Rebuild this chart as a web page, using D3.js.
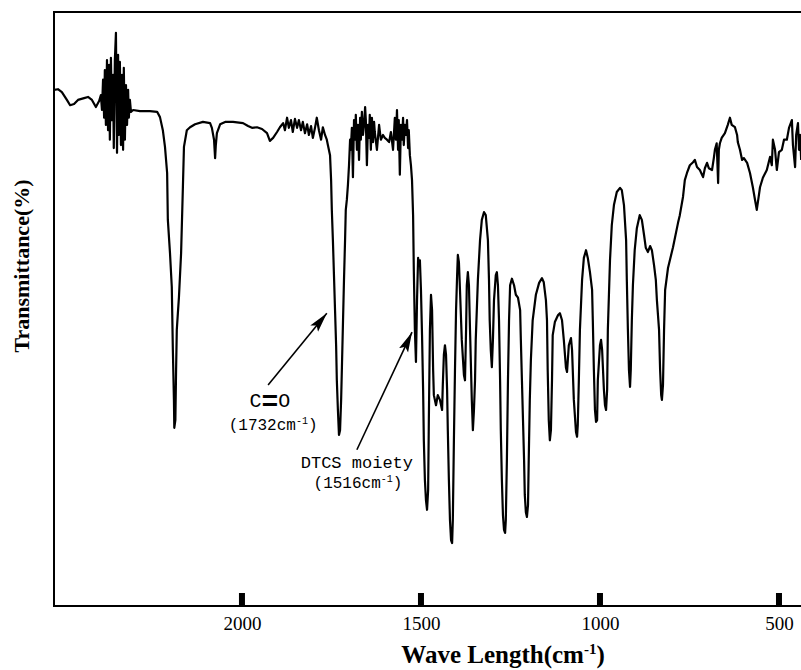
<!DOCTYPE html>
<html>
<head>
<meta charset="utf-8">
<script src="https://cdn.jsdelivr.net/npm/d3@7"></script>
<style>
    body { margin: 0; background: #fff; }
    svg { display: block; }
</style>
</head>
<body>
<div id="chart-area"></div>
<script>
// IR spectrum: wavenumber (cm-1) and transmittance (% of plot height)
const wavenumbers = [
    2525, 2514, 2503, 2489, 2480, 2469, 2458, 2441, 2430, 2419, 2408, 2399,
    2394, 2391, 2388, 2385, 2383, 2380, 2377, 2374, 2371, 2369, 2366, 2363, 2360, 2358, 2355, 2352,
    2349, 2346, 2344, 2341, 2338, 2335, 2332, 2330, 2327, 2324, 2321, 2318, 2316, 2313, 2310,
    2304, 2285, 2257, 2237, 2229, 2221, 2215, 2209, 2207, 2201, 2196, 2193, 2190, 2189, 2186,
    2184, 2182, 2179, 2176, 2170, 2165, 2162, 2154, 2145, 2131, 2109, 2089, 2084, 2078, 2075,
    2073, 2070, 2061, 2047, 2025, 1997, 1983, 1972, 1958, 1944, 1930, 1922, 1913, 1902, 1894,
    1885, 1880, 1874, 1869, 1863, 1858, 1852, 1846, 1841, 1835, 1830, 1824, 1818, 1813, 1807,
    1802, 1796, 1791, 1785, 1779, 1774, 1768, 1763, 1760, 1754, 1751, 1749, 1746, 1743, 1740,
    1737, 1735, 1732, 1729, 1726, 1723, 1721, 1718, 1715, 1712, 1710, 1707, 1704, 1701, 1698,
    1696, 1693, 1690, 1687, 1684, 1682, 1679, 1676, 1673, 1670, 1668, 1665, 1662, 1659, 1656,
    1654, 1651, 1648, 1645, 1643, 1640, 1637, 1634, 1631, 1629, 1623, 1617, 1612, 1606, 1601,
    1595, 1589, 1584, 1578, 1573, 1570, 1567, 1564, 1562, 1559, 1556, 1553, 1550, 1548, 1545,
    1542, 1539, 1536, 1534, 1531, 1528, 1525, 1522, 1520, 1517, 1514, 1511, 1508, 1506, 1503,
    1500, 1497, 1494, 1492, 1489, 1486, 1483, 1480, 1478, 1475, 1472, 1469, 1466, 1464, 1458,
    1453, 1447, 1441, 1439, 1436, 1433, 1430, 1427, 1425, 1422, 1419, 1416, 1413, 1411, 1408,
    1405, 1402, 1399, 1397, 1394, 1391, 1386, 1380, 1377, 1374, 1372, 1369, 1366, 1363, 1358,
    1355, 1352, 1349, 1347, 1341, 1335, 1330, 1324, 1319, 1313, 1310, 1308, 1305, 1302, 1299,
    1296, 1291, 1288, 1285, 1282, 1279, 1277, 1274, 1271, 1268, 1265, 1263, 1260, 1257, 1254,
    1251, 1246, 1240, 1235, 1229, 1223, 1221, 1218, 1215, 1212, 1210, 1207, 1204, 1201, 1199,
    1196, 1193, 1188, 1179, 1170, 1162, 1157, 1151, 1148, 1146, 1143, 1140, 1137, 1134, 1132,
    1126, 1117, 1112, 1106, 1101, 1095, 1092, 1087, 1081, 1078, 1073, 1067, 1064, 1062, 1059,
    1056, 1050, 1045, 1039, 1034, 1028, 1022, 1020, 1017, 1014, 1011, 1008, 1006, 1000, 997,
    994, 989, 986, 983, 980, 978, 972, 967, 961, 953, 944, 939, 933, 927, 925,
    922, 919, 916, 914, 911, 908, 903, 897, 889, 883, 877, 872, 866, 860, 855,
    849, 844, 841, 835, 832, 829, 827, 824, 821, 818, 810, 796, 782, 777, 768,
    763, 757, 749, 740, 735, 729, 721, 712, 707, 701, 696, 687, 682, 679, 674,
    670, 668, 665, 660, 651, 643, 637, 632, 623, 617, 615, 609, 603, 598, 589,
    581, 573, 567, 562, 556, 553, 545, 534, 525, 520, 517, 511, 506, 500, 492,
    486, 478, 472, 464, 461, 455, 452, 447, 444, 441, 438
];
const transmittance = [
    86.9, 87.0, 86.5, 85.2, 84.3, 84.5, 85.2, 85.5, 85.7, 85.2, 84.0, 85.0,
    86.0, 83.5, 88.6, 82.2, 90.2, 81.0, 91.9, 80.1, 91.1, 78.5, 92.3, 81.8, 89.4, 77.1, 91.9, 96.5,
    76.3, 92.8, 79.3, 91.6, 77.6, 89.4, 76.8, 90.6, 78.5, 87.7, 81.0, 86.9, 82.2, 85.2, 83.2,
    83.5, 83.3, 83.3, 83.2, 82.3, 80.1, 77.3, 72.9, 65.0, 59.4, 53.7, 43.1, 34.7, 30.0, 31.3,
    39.7, 46.5, 49.3, 52.0, 59.4, 70.5, 77.3, 80.1, 80.6, 81.1, 81.5, 81.3, 80.5, 78.5, 75.4,
    77.6, 79.6, 81.1, 81.5, 81.5, 81.3, 80.8, 80.5, 80.6, 80.3, 79.6, 78.3, 78.8, 79.8, 80.6,
    81.3, 80.1, 82.2, 80.5, 81.8, 79.8, 82.0, 80.5, 81.8, 80.1, 81.5, 79.6, 81.1, 79.3, 80.8,
    78.8, 80.5, 82.2, 80.1, 78.5, 80.6, 79.3, 78.5, 77.6, 75.9, 71.7, 66.7, 61.6, 55.7, 49.8,
    43.9, 38.0, 33.0, 28.8, 29.6, 34.7, 39.7, 47.3, 54.9, 61.6, 66.7, 68.4, 70.9, 74.2, 78.5,
    76.8, 80.5, 72.2, 81.8, 78.5, 82.7, 76.8, 81.0, 75.1, 82.2, 78.5, 83.2, 79.3, 81.0, 84.0,
    81.8, 74.2, 81.0, 78.8, 82.7, 76.8, 82.2, 78.1, 81.5, 79.8, 76.8, 81.0, 78.5, 79.3, 78.8,
    78.5, 78.1, 79.8, 76.8, 82.2, 78.5, 83.5, 76.8, 81.8, 72.6, 81.0, 78.5, 82.2, 77.6, 81.0,
    79.3, 81.8, 77.1, 80.1, 75.9, 74.2, 71.7, 65.8, 56.6, 46.5, 41.1, 51.5, 58.6, 57.4, 58.2,
    53.2, 45.6, 36.4, 27.9, 21.2, 17.8, 16.2, 19.5, 31.3, 46.5, 52.4, 49.8, 39.7, 35.5, 33.8,
    35.5, 34.7, 33.0, 37.2, 42.3, 43.9, 42.3, 36.4, 29.6, 21.2, 14.5, 11.1, 10.6, 14.5, 27.9,
    39.7, 49.8, 55.7, 59.1, 57.9, 53.2, 44.8, 38.9, 38.0, 46.5, 54.0, 56.2, 54.0, 46.5, 34.7,
    29.6, 33.0, 38.0, 44.8, 54.9, 61.6, 65.0, 66.3, 65.8, 61.6, 54.9, 48.1, 43.1, 40.2, 44.8,
    51.5, 55.7, 56.2, 54.0, 48.1, 38.0, 29.6, 21.2, 15.3, 12.8, 12.3, 14.5, 24.6, 38.0, 48.1,
    54.0, 55.1, 54.0, 52.4, 51.9, 49.8, 44.8, 38.0, 31.3, 24.6, 18.7, 15.8, 15.0, 17.0, 24.6,
    34.7, 41.4, 48.1, 52.4, 54.4, 55.2, 54.5, 51.5, 48.1, 39.7, 31.3, 27.9, 29.6, 38.0, 45.6,
    47.8, 49.0, 49.3, 48.1, 44.8, 40.1, 39.4, 43.9, 45.1, 43.1, 34.7, 29.3, 28.5, 30.5, 38.0,
    46.5, 54.9, 58.6, 59.9, 58.6, 56.2, 53.2, 48.1, 39.7, 33.0, 31.0, 31.3, 38.0, 43.9, 44.8,
    43.1, 36.4, 33.8, 33.0, 36.4, 46.5, 58.2, 64.1, 67.5, 69.7, 70.4, 70.0, 67.5, 61.6, 54.9,
    46.5, 39.7, 36.9, 39.7, 48.1, 54.0, 59.9, 63.6, 65.8, 65.0, 62.5, 60.3, 59.6, 60.6, 59.9,
    57.4, 54.9, 51.5, 46.5, 39.7, 35.5, 34.7, 37.2, 46.5, 53.2, 56.9, 60.4, 64.5, 65.8, 68.9,
    71.7, 72.9, 74.2, 74.7, 75.1, 73.9, 73.4, 72.2, 73.7, 74.6, 73.7, 73.4, 75.4, 76.8, 77.9,
    71.2, 76.8, 77.9, 78.8, 79.6, 81.0, 82.2, 81.0, 80.6, 79.3, 78.1, 76.8, 75.1, 75.4, 74.6,
    72.9, 70.5, 68.4, 66.7, 69.2, 70.5, 72.1, 73.4, 75.6, 74.2, 78.5, 76.8, 73.4, 76.4, 76.8,
    78.5, 78.5, 80.5, 81.8, 77.6, 73.9, 79.3, 81.3, 76.8, 79.3, 75.1
];

const tickValues = [2000, 1500, 1000, 500];
const xDomain = [2525, 438.5];
const yDomain = [0, 100];

// annotated bands: arrow tail / tip and label anchors in data units
const annotationAtoms = [["C", "O"], null];
const annotationNames = ["C=O", "DTCS moiety"];
const annotationBands = ["1732", "1516"];
const arrowTails = [[1927, 37.2], [1679, 26.3]];
const arrowTips = [[1763, 49.3], [1525, 46.1]];
const nameAnchors = [[1922, 33.5], [1679, 23.2]];
const bandAnchors = [[1913, 29.6], [1676, 19.9]];

const spectrum = wavenumbers.map((w, i) => ({ wn: w, t: transmittance[i] }));

const svg_width = 801, svg_height = 670;
const plotLeft = 54, plotRight = 801, plotTop = 12, plotBottom = 606;

let svg = d3.select("#chart-area")
    .append("svg")
    .attr("width", svg_width)
    .attr("height", svg_height);

let xScale = d3.scaleLinear().domain(xDomain).range([plotLeft, plotRight]);
let yScale = d3.scaleLinear().domain(yDomain).range([plotBottom, plotTop]);

let defs = svg.append("defs");
defs.append("clipPath")
    .attr("id", "plot-clip")
    .append("rect")
    .attr("x", plotLeft).attr("y", plotTop)
    .attr("width", plotRight - plotLeft).attr("height", plotBottom - plotTop);

defs.append("marker")
    .attr("id", "arrow")
    .attr("viewBox", "0 -6 20 12")
    .attr("refX", 20).attr("refY", 0)
    .attr("markerUnits", "userSpaceOnUse")
    .attr("markerWidth", 20).attr("markerHeight", 12)
    .attr("orient", "auto")
    .append("path")
    .attr("d", "M0,-5L20,0L0,5L4,0Z")
    .attr("fill", "#000");

// frame: left, top and bottom lines (no right border)
svg.append("path")
    .attr("d", `M${plotRight + 5},${plotTop}H${plotLeft}V${plotBottom}H${plotRight + 5}`)
    .attr("fill", "none")
    .attr("stroke", "#000")
    .attr("stroke-width", 2);

// thick inward ticks
svg.append("g")
    .selectAll("rect")
    .data(tickValues)
    .enter()
    .append("rect")
    .attr("x", d => xScale(d) - 3)
    .attr("y", plotBottom - 13)
    .attr("width", 6)
    .attr("height", 13)
    .attr("fill", "#000");

// tick labels
let xAxis = svg.append("g")
    .attr("transform", "translate(0," + plotBottom + ")")
    .call(d3.axisBottom(xScale).tickValues(tickValues).tickSize(0).tickPadding(11).tickFormat(d3.format("d")));
xAxis.select(".domain").remove();
xAxis.selectAll("text")
    .attr("font-family", "Liberation Serif, Times New Roman, serif")
    .attr("font-size", 19)
    .attr("fill", "#000");

// spectrum line
let line = d3.line()
    .x(d => xScale(d.wn))
    .y(d => yScale(d.t));

svg.append("path")
    .datum(spectrum)
    .attr("clip-path", "url(#plot-clip)")
    .attr("d", line)
    .attr("fill", "none")
    .attr("stroke", "#000")
    .attr("stroke-width", 2.2)
    .attr("stroke-linejoin", "round");

// annotation arrows
svg.append("g")
    .selectAll("line")
    .data(arrowTails)
    .enter()
    .append("line")
    .attr("x1", d => xScale(d[0]))
    .attr("y1", d => yScale(d[1]))
    .attr("x2", (d, i) => xScale(arrowTips[i][0]))
    .attr("y2", (d, i) => yScale(arrowTips[i][1]))
    .attr("stroke", "#000")
    .attr("stroke-width", 1.6)
    .attr("marker-end", "url(#arrow)");

// annotation texts
const monoFont = "Liberation Mono, Courier New, monospace";
annotationNames.forEach((name, i) => {
    let label = svg.append("text")
        .attr("x", xScale(nameAnchors[i][0]))
        .attr("y", yScale(nameAnchors[i][1]))
        .attr("text-anchor", "middle")
        .attr("font-family", monoFont)
        .attr("font-size", i === 0 ? 20 : 17);
    if (annotationAtoms[i]) {
        // wide, heavy double bond like the original figure
        label.append("tspan").text(annotationAtoms[i][0]);
        label.append("tspan").attr("font-size", 28).attr("font-weight", "bold").attr("dy", 2.5).text("=");
        label.append("tspan").attr("dy", -2.5).text(annotationAtoms[i][1]);
    } else {
        label.text(name);
    }

    let band = svg.append("text")
        .attr("x", xScale(bandAnchors[i][0]))
        .attr("y", yScale(bandAnchors[i][1]))
        .attr("text-anchor", "middle")
        .attr("font-family", monoFont)
        .attr("font-size", 16);
    band.append("tspan").text("(" + annotationBands[i] + "cm");
    band.append("tspan").attr("font-size", 10).attr("dy", -6).text("-1");
    band.append("tspan").attr("dy", 6).text(")");
});

// axis titles
let xTitle = svg.append("text")
    .attr("x", 503)
    .attr("y", 663)
    .attr("text-anchor", "middle")
    .attr("font-family", "Liberation Serif, Times New Roman, serif")
    .attr("font-weight", "bold")
    .attr("font-size", 25);
xTitle.append("tspan").text("Wave Length(cm");
xTitle.append("tspan").attr("font-size", 15).attr("dy", -9).text("-1");
xTitle.append("tspan").attr("dy", 9).text(")");

svg.append("text")
    .attr("text-anchor", "middle")
    .attr("transform", "translate(29,266) rotate(-90)")
    .attr("font-family", "Liberation Serif, Times New Roman, serif")
    .attr("font-weight", "bold")
    .attr("font-size", 22)
    .text("Transmittance(%)");
</script>
</body>
</html>
